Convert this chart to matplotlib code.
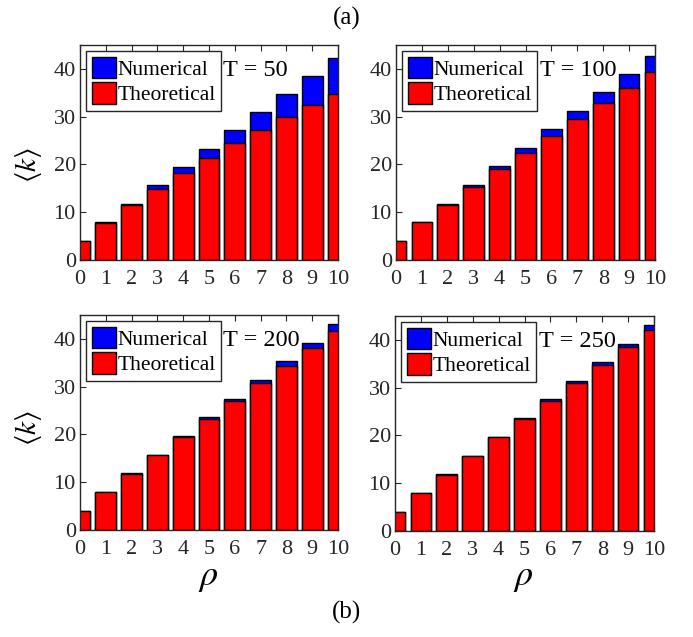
import matplotlib
matplotlib.use("Agg")
import matplotlib.pyplot as plt
import numpy as np

plt.rcParams['font.family'] = ['Liberation Serif', 'DejaVu Serif']
plt.rcParams['mathtext.fontset'] = 'stix'

rho = list(range(11))
T_labels = ["T = 50", "T = 100", "T = 200", "T = 250"]

num_T50 = [4.0, 7.9, 11.8, 15.6, 19.5, 23.3, 27.2, 31.0, 34.8, 38.5, 42.3]
theo_T50 = [3.9, 7.8, 11.45, 14.9, 18.2, 21.4, 24.4, 27.2, 29.9, 32.4, 34.8]

num_T100 = [3.95, 7.9, 11.7, 15.65, 19.6, 23.5, 27.4, 31.2, 35.1, 38.9, 42.8]
theo_T100 = [3.9, 7.85, 11.6, 15.3, 18.95, 22.5, 26.0, 29.5, 32.9, 36.1, 39.4]

num_T200 = [3.95, 7.9, 11.86, 15.7, 19.65, 23.6, 27.5, 31.4, 35.3, 39.2, 43.1]
theo_T200 = [3.9, 7.85, 11.8, 15.6, 19.4, 23.2, 27.0, 30.7, 34.4, 38.0, 41.6]

num_T250 = [3.95, 7.9, 11.86, 15.8, 19.7, 23.65, 27.6, 31.4, 35.4, 39.2, 43.1]
theo_T250 = [3.9, 7.85, 11.8, 15.7, 19.6, 23.4, 27.2, 31.0, 34.7, 38.5, 42.1]

nums = [num_T50, num_T100, num_T200, num_T250]
theos = [theo_T50, theo_T100, theo_T200, theo_T250]

fig = plt.figure(figsize=(6.93, 6.37), dpi=100)
W, H = 693, 637
boxes = [(80, 45, 258, 215), (396, 45, 259, 215), (80, 315, 258, 215), (395, 316, 259, 215)]

for i, (bx, by, bw, bh) in enumerate(boxes):
    ax = fig.add_axes([bx / W, 1 - (by + bh) / H, bw / W, bh / H])
    ax.bar(rho, nums[i], width=0.8, color=(0, 0, 1), edgecolor='black', linewidth=1.0,
           label='Numerical', zorder=2)
    ax.bar(rho, theos[i], width=0.8, color=(1, 0, 0), edgecolor='black', linewidth=1.0,
           label='Theoretical', zorder=3)
    ax.set_xlim(0, 10)
    ax.set_ylim(0, 45)
    ax.set_xticks(rho)
    ax.set_yticks([0, 10, 20, 30, 40])
    ax.tick_params(direction='in', top=True, right=True, labelsize=16, length=4,
                   width=0.8, colors='#262626', labelcolor='#262626')
    ax.tick_params(axis='x', pad=7)
    ax.tick_params(axis='y', pad=3)
    for s in ax.spines.values():
        s.set_linewidth(1.0)
        s.set_color('#262626')
        s.set_zorder(5)
    leg = ax.legend(loc='upper left', fontsize=15.5, frameon=True, fancybox=False,
                    edgecolor='#262626', framealpha=1, handlelength=1.1, handleheight=1.15,
                    handletextpad=0.1, borderpad=0.25, labelspacing=0.12,
                    borderaxespad=0.3)
    leg.get_frame().set_linewidth(1.0)
    ax.text(5.55, 39.6, T_labels[i], fontsize=17.5, va='center', ha='left', zorder=6)

# y labels
fig.text(29 / W, 1 - 165 / H, r'$\langle k \rangle$', fontsize=21, rotation=90,
         ha='center', va='center')
fig.text(29 / W, 1 - 428 / H, r'$\langle k \rangle$', fontsize=21, rotation=90,
         ha='center', va='center')
# x labels
fig.text(208 / W, 1 - 578 / H, r'$\rho$', fontsize=26, ha='center', va='center')
fig.text(523 / W, 1 - 578 / H, r'$\rho$', fontsize=26, ha='center', va='center')

fig.text(0.5, 1 - 18 / H, '(a)', fontsize=18, ha='center', va='center')
fig.text(0.5, 1 - 612 / H, '(b)', fontsize=18, ha='center', va='center')

fig.savefig('out.png', dpi=100)
